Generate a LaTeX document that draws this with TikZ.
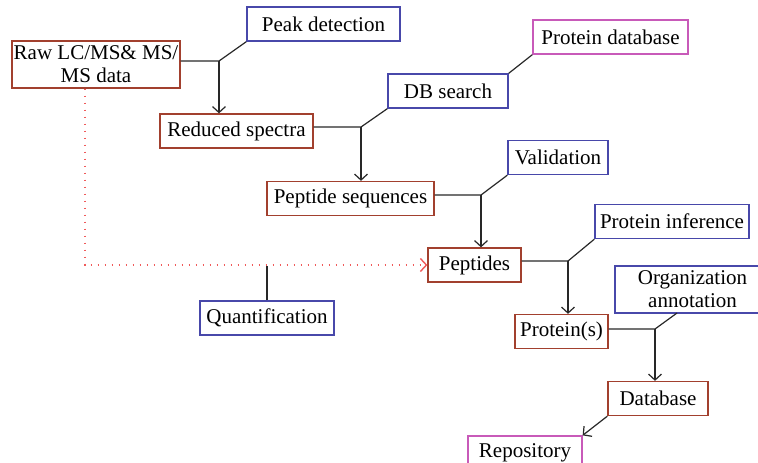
\documentclass[tikz,border=0pt]{standalone}
\usepackage{fontspec}
\setmainfont{Liberation Serif}
\usetikzlibrary{arrows.meta}
\definecolor{datared}{RGB}{162,64,46}
\definecolor{toolblue}{RGB}{72,72,170}
\definecolor{storepink}{RGB}{200,90,185}
\definecolor{dotred}{RGB}{240,90,90}
\definecolor{linkgray}{RGB}{40,40,40}

\begin{document}
\begin{tikzpicture}[x=0.5pt,y=-0.5pt,>={Straight Barb[length=3pt,width=6.5pt]},
  data node/.style={draw=datared,line width=0.65pt,inner sep=0pt,minimum height=17pt,
    align=center,font=\fontsize{10.5}{11.5}\selectfont},
  tool node/.style={data node,draw=toolblue},
  store node/.style={data node,draw=storepink},
  link/.style={draw=linkgray,line width=0.6pt},
  quant link/.style={draw=dotred,line width=0.7pt,dash pattern=on 0.9pt off 2.6pt}]
  \useasboundingbox (0,0) rectangle (758,462);
  % boxes
  \node[data node, minimum width=84pt, minimum height=23.5pt] (raw) at (96,64.5) {Raw LC/MS\& MS/\\MS data};
  \node[tool node, minimum width=76.5pt] (peak) at (323.5,24) {Peak detection};
  \node[data node, minimum width=76.5pt] (reduced) at (236.5,131) {Reduced spectra};
  \node[tool node, minimum width=60pt] (dbsearch) at (448,91) {DB search};
  \node[store node, minimum width=77.5pt] (protdb) at (610.5,37) {Protein database};
  \node[data node, minimum width=83.5pt] (pepseq) at (350.5,198.5) {Peptide sequences};
  \node[tool node, minimum width=50pt] (valid) at (558,157.5) {Validation};
  \node[data node, minimum width=46.5pt] (peptides) at (474.5,265) {Peptides};
  \node[tool node, minimum width=77pt] (protinf) at (672,221.5) {Protein inference};
  \node[data node, minimum width=46.5pt] (proteins) at (561.5,331.5) {Protein(s)};
  \node[tool node, minimum width=77.5pt, minimum height=23.5pt] (organno) at (692.5,289.5) {Organization\\annotation};
  \node[data node, minimum width=50pt] (database) at (658,398.5) {Database};
  \node[store node, minimum width=57pt] (repo) at (525,453) {Repository};
  \node[tool node, minimum width=67pt] (quant) at (267,318) {Quantification};

  % junctions
  \coordinate (j1) at (219,61);
  \coordinate (j2) at (361,127);
  \coordinate (j3) at (481,195);
  \coordinate (j4) at (568,261);
  \coordinate (j5) at (655,329);
  \coordinate (j5b) at (677,313);
  \coordinate (q0) at (85,266);

  % processing steps
  \draw[link] (j1 -| raw.east) -- (j1) -- (peak.south west);
  \draw[link,->] (j1) -- (j1 |- reduced.north);
  \draw[link] (j2 -| reduced.east) -- (j2) -- (dbsearch.south west);
  \draw[link] (dbsearch.north east) -- (protdb.south west);
  \draw[link,->] (j2) -- (j2 |- pepseq.north);
  \draw[link] (j3 -| pepseq.east) -- (j3) -- (valid.south west);
  \draw[link,->] (j3) -- (j3 |- peptides.north);
  \draw[link] (j4 -| peptides.east) -- (j4) -- (protinf.south west);
  \draw[link,->] (j4) -- (j4 |- proteins.north);
  \draw[link] (j5 -| proteins.east) -- (j5) -- (j5b);
  \draw[link,->] (j5) -- (j5 |- database.north);
  \draw[link,->] (database.south west) -- (repo.north east);

  % quantification
  \draw[quant link,->] (raw.south -| q0) |- (peptides.west);
  \draw[link] (quant.north) -- (quant.north |- q0);
\end{tikzpicture}
\end{document}
